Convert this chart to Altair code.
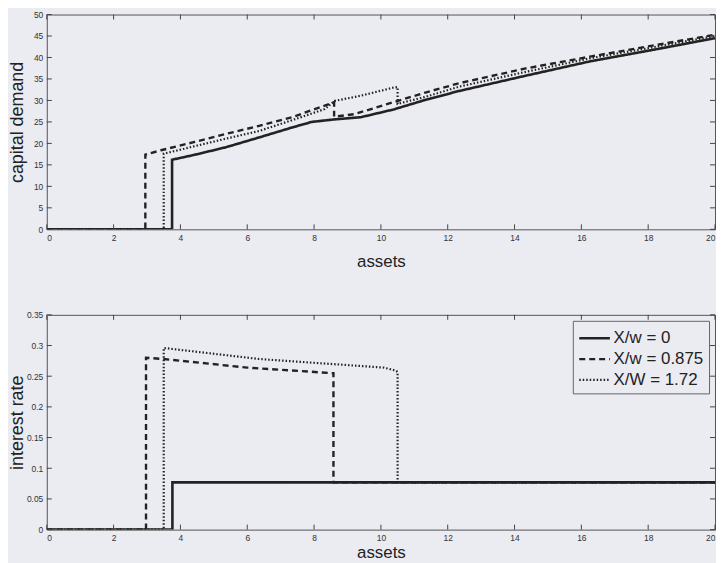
import altair as alt
import pandas as pd

# ---------------- data ----------------
SERIES = ["X/w = 0", "X/w = 0.875", "X/W = 1.72"]

# top panel: capital demand
cap_x_s0 = [0, 3.75, 3.75, 4.4, 5.36, 6.36, 7.34, 7.93, 8.62, 9.4, 10.38, 11.36, 12.34, 14.3, 16.26, 18.23, 20]
cap_y_s0 = [0, 0, 16.2, 17.3, 19.1, 21.4, 23.7, 25.0, 25.6, 26.1, 27.9, 30.2, 32.2, 35.7, 39.1, 41.9, 44.5]

cap_x_s1 = [0, 2.95, 2.95, 3.42, 4.4, 5.36, 6.36, 7.34, 8.32, 8.6, 8.6, 9.2, 10.38, 11.36, 12.34, 14.3, 16.26, 18.23, 20]
cap_y_s1 = [0, 0, 17.4, 18.4, 20.3, 22.2, 24.1, 26.1, 28.8, 29.6, 26.2, 26.8, 29.6, 31.9, 34.0, 37.4, 40.2, 42.9, 45.3]

cap_x_s2 = [0, 3.5, 3.5, 4.4, 5.36, 6.36, 7.34, 8.32, 8.62, 9.4, 10.38, 10.5, 10.5, 11.36, 12.34, 14.3, 16.26, 18.23, 20]
cap_y_s2 = [0, 0, 17.6, 19.3, 21.1, 22.9, 25.4, 28.0, 29.9, 31.1, 33.0, 33.1, 29.2, 30.9, 33.2, 36.6, 39.8, 42.5, 45.0]

# bottom panel: interest rate
ir_x_s0 = [0, 3.76, 3.76, 20]
ir_y_s0 = [0, 0, 0.077, 0.077]

ir_x_s1 = [0, 2.97, 2.97, 3.5, 6.0, 8.55, 8.58, 8.58, 20]
ir_y_s1 = [0, 0, 0.280, 0.278, 0.264, 0.255, 0.255, 0.077, 0.077]

ir_x_s2 = [0, 3.5, 3.5, 6.36, 10.09, 10.45, 10.5, 10.5, 20]
ir_y_s2 = [0, 0, 0.296, 0.278, 0.264, 0.259, 0.257, 0.077, 0.077]

x_ticks = [0, 2, 4, 6, 8, 10, 12, 14, 16, 18, 20]
y_ticks_top = [0, 5, 10, 15, 20, 25, 30, 35, 40, 45, 50]
y_ticks_bottom = [0, 0.05, 0.1, 0.15, 0.2, 0.25, 0.3, 0.35]

# ---------------- layout / style ----------------
W = 672
H = 216
BG = "#ebebf2"
INK = "#222222"
FONT = "Liberation Sans"
TICK = 5


def frame(xs_list, ys_list):
    rows = []
    for name, xs, ys in zip(SERIES, xs_list, ys_list):
        for i, (a, v) in enumerate(zip(xs, ys)):
            rows.append({"a": a, "v": v, "series": name, "i": i})
    return pd.DataFrame(rows)


def panel(df, ydomain, yticks, ytitle, xtitle_dy, show_legend):
    xscale = alt.Scale(domain=[0, 20], nice=False, zero=False)
    yscale = alt.Scale(domain=ydomain, nice=False, zero=False)
    xaxis = alt.Axis(values=x_ticks, title="assets", ticks=False, domain=False, grid=False,
                     labelFontSize=8.5, labelColor="#333", labelFont=FONT, labelPadding=4,
                     titleFont=FONT, titleFontSize=17, titleFontWeight="normal", titleColor=INK,
                     titleY=xtitle_dy, titleBaseline="middle")
    yaxis = alt.Axis(values=yticks, title=ytitle, ticks=False, domain=False, grid=False, format="~g",
                     labelFontSize=8.5, labelColor="#333", labelFont=FONT, labelPadding=4,
                     titleFont=FONT, titleFontSize=18, titleFontWeight="normal", titleColor=INK,
                     titleX=-20, titleY=H / 2, titleAngle=270, titleAlign="center",
                     titleBaseline="bottom")
    legend = None
    if show_legend:
        legend = alt.Legend(title=None, orient="top-right", offset=6, symbolType="M-1,0H1.8",
                            symbolSize=484, symbolStrokeWidth=2, symbolStrokeColor=INK,
                            symbolFillColor="transparent",
                            labelFont=FONT, labelFontSize=17, labelColor=INK, labelLimit=200,
                            strokeColor="#666", fillColor=BG, padding=5, rowPadding=0,
                            labelOffset=11, cornerRadius=0)
    lines = alt.Chart(df).mark_line(color=INK, clip=True).encode(
        x=alt.X("a:Q", scale=xscale, axis=xaxis),
        y=alt.Y("v:Q", scale=yscale, axis=yaxis),
        strokeDash=alt.StrokeDash("series:N",
                                  scale=alt.Scale(domain=SERIES, range=[[1, 0], [6, 4], [1.5, 2]]),
                                  legend=legend),
        strokeWidth=alt.StrokeWidth("series:N",
                                    scale=alt.Scale(domain=SERIES, range=[2.6, 2.2, 1.6]),
                                    legend=None),
        order=alt.Order("i:Q"),
    )
    xt = pd.DataFrame({"t": x_ticks})
    yt = pd.DataFrame({"t": yticks})
    tb = alt.Chart(xt).mark_rule(color="#444", strokeWidth=1).encode(
        x=alt.X("t:Q", scale=xscale, axis=xaxis), y=alt.value(H), y2=alt.value(H - TICK))
    tt = alt.Chart(xt).mark_rule(color="#444", strokeWidth=1).encode(
        x=alt.X("t:Q", scale=xscale, axis=xaxis), y=alt.value(0), y2=alt.value(TICK))
    tl = alt.Chart(yt).mark_rule(color="#444", strokeWidth=1).encode(
        y=alt.Y("t:Q", scale=yscale, axis=yaxis), x=alt.value(0), x2=alt.value(TICK))
    tr = alt.Chart(yt).mark_rule(color="#444", strokeWidth=1).encode(
        y=alt.Y("t:Q", scale=yscale, axis=yaxis), x=alt.value(W), x2=alt.value(W - TICK))
    return alt.layer(lines, tb, tt, tl, tr).properties(width=W, height=H)


top = panel(frame([cap_x_s0, cap_x_s1, cap_x_s2], [cap_y_s0, cap_y_s1, cap_y_s2]),
            [0, 50], y_ticks_top, "capital demand", 32, False)
bottom = panel(frame([ir_x_s0, ir_x_s1, ir_x_s2], [ir_y_s0, ir_y_s1, ir_y_s2]),
               [0, 0.35], y_ticks_bottom, "interest rate", 23, True)

chart = (
    alt.vconcat(top, bottom, spacing=40)
    .resolve_scale(y="independent", strokeDash="independent", strokeWidth="independent")
    .resolve_legend(strokeDash="independent")
    .properties(padding=0, background=BG)
    .configure_view(stroke="#555", strokeWidth=1, fill=BG)
)

chart.save("out.html", embed_options={"renderer": "svg", "actions": False})
